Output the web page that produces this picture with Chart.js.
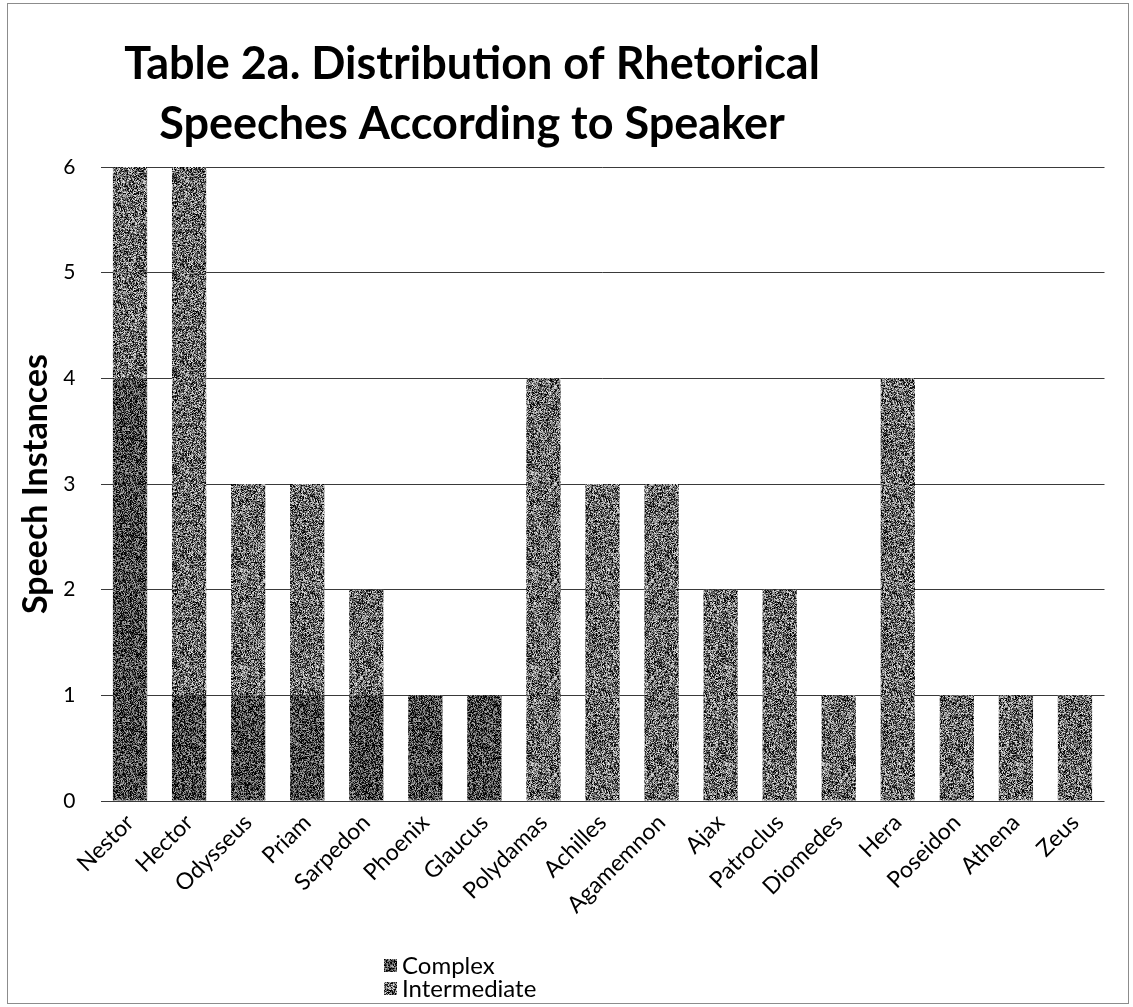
<!DOCTYPE html>
<html>
<head>
<meta charset="utf-8">
<script src="https://cdn.jsdelivr.net/npm/chart.js@4.4.1/dist/chart.umd.min.js"></script>
<style>
  html, body { margin: 0; padding: 0; background: #fff; }
  #wrap { position: relative; width: 1133px; height: 1007px; }
  #frame { position: absolute; left: 7px; top: 3px; width: 1122px; height: 1001px;
           border: 1px solid #8c8c8c; box-sizing: border-box; pointer-events: none; }
  canvas { display: block; }
</style>
</head>
<body>
<div id="wrap">
  <canvas id="c" width="1133" height="1007"></canvas>
  <div id="frame"></div>
</div>
<script>
// Speakers in the order they appear along the axis
const speakers = ['Nestor', 'Hector', 'Odysseus', 'Priam', 'Sarpedon', 'Phoenix', 'Glaucus',
  'Polydamas', 'Achilles', 'Agamemnon', 'Ajax', 'Patroclus', 'Diomedes', 'Hera',
  'Poseidon', 'Athena', 'Zeus'];

// Speech counts per speaker, split by rhetorical level
const complexCounts      = [4, 1, 1, 1, 1, 1, 1, 0, 0, 0, 0, 0, 0, 0, 0, 0, 0];
const intermediateCounts = [2, 5, 2, 2, 1, 0, 0, 4, 3, 3, 2, 2, 1, 4, 1, 1, 1];

const seriesNames = ['Complex', 'Intermediate'];
const yTickValues = [0, 1, 2, 3, 4, 5, 6];
const titleLines = ['Table 2a. Distribution of Rhetorical', 'Speeches According to Speaker'];
const yAxisTitle = 'Speech Instances';

const FONT = 'Lato, "Open Sans", "DejaVu Sans", sans-serif';

const canvas = document.getElementById('c');
const ctx = canvas.getContext('2d');

// Speckled grey fill, like a photocopied print
function grainFill(mean, spread, seed) {
  const tile = document.createElement('canvas');
  tile.width = tile.height = 97;
  const g = tile.getContext('2d');
  const img = g.createImageData(tile.width, tile.height);
  let s = seed >>> 0;
  for (let i = 0; i < img.data.length; i += 4) {
    s = (Math.imul(s, 1664525) + 1013904223) >>> 0;
    const r = s / 4294967296;
    const v = Math.max(0, Math.min(255, mean + (r - 0.5) * spread));
    img.data[i] = img.data[i + 1] = img.data[i + 2] = v;
    img.data[i + 3] = 255;
  }
  g.putImageData(img, 0, 0);
  return ctx.createPattern(tile, 'repeat');
}

const complexFill = grainFill(70, 220, 12345);
const intermediateFill = grainFill(105, 250, 98765);

// Title and vertical key drawn in their own spots
const headerAndKey = {
  id: 'headerAndKey',
  afterDraw(chart) {
    const c = chart.ctx;
    c.save();
    c.fillStyle = '#000';
    c.textAlign = 'center';
    c.textBaseline = 'middle';
    c.font = 'bold 45px ' + FONT;
    c.fillText(titleLines[0], 472, 64);
    c.fillText(titleLines[1], 472, 124);

    c.textAlign = 'left';
    c.font = '24px ' + FONT;
    const keyX = 384, keyY = [965, 988];
    chart.data.datasets.forEach((ds, i) => {
      c.fillStyle = ds.backgroundColor;
      c.fillRect(keyX, keyY[i] - 6, 13, 13);
      c.fillStyle = '#000';
      c.fillText(ds.label, keyX + 18, keyY[i] + 1);
    });
    c.restore();
  }
};

new Chart(canvas, {
  type: 'bar',
  data: {
    labels: speakers,
    datasets: [
      { label: seriesNames[0], data: complexCounts, backgroundColor: complexFill,
        categoryPercentage: 1.0, barPercentage: 0.58, borderWidth: 0 },
      { label: seriesNames[1], data: intermediateCounts, backgroundColor: intermediateFill,
        categoryPercentage: 1.0, barPercentage: 0.58, borderWidth: 0 }
    ]
  },
  options: {
    responsive: false,
    devicePixelRatio: 1,
    animation: false,
    layout: { padding: { left: 16, right: 28.5, top: 167, bottom: 66 } },
    plugins: {
      legend: { display: false },
      title: { display: false },
      tooltip: { enabled: false }
    },
    scales: {
      x: {
        stacked: true,
        grid: { display: false, drawTicks: false },
        border: { display: false },
        ticks: {
          color: '#000', font: { family: FONT, size: 23 },
          minRotation: 45, maxRotation: 45, autoSkip: false, padding: 8
        },
        afterFit(scale) { scale.height = 140; }
      },
      y: {
        stacked: true,
        min: yTickValues[0],
        max: yTickValues[yTickValues.length - 1],
        afterBuildTicks(scale) { scale.ticks = yTickValues.map(v => ({ value: v })); },
        grid: { color: '#3a3a3a', lineWidth: 1, drawTicks: false },
        border: { display: false },
        ticks: { color: '#000', font: { family: FONT, size: 21 }, padding: 25 },
        title: {
          display: true, text: yAxisTitle, color: '#000',
          font: { family: FONT, size: 34, weight: 'bold' }, padding: { top: 0, bottom: 2 }
        },
        afterFit(scale) { scale.width = 84.5; }
      }
    }
  },
  plugins: [headerAndKey]
});
</script>
</body>
</html>
